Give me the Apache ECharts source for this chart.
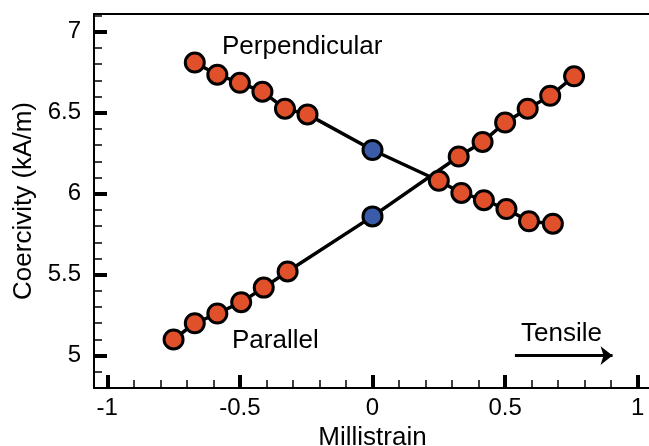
<!DOCTYPE html>
<html>
<head>
<meta charset="utf-8">
<script src="https://cdn.jsdelivr.net/npm/echarts@6/dist/echarts.min.js"></script>
<style>
html,body{margin:0;padding:0;background:#fff;}
#chart{width:649px;height:446px;}
</style>
</head>
<body>
<div id="chart"></div>
<script>
// ---- data ----
const parallelX = [-0.75, -0.67, -0.585, -0.495, -0.41, -0.32, 0, 0.325, 0.415, 0.5, 0.585, 0.67, 0.76];
const parallelY = [5.10, 5.20, 5.26, 5.33, 5.42, 5.52, 5.86, 6.23, 6.32, 6.44, 6.525, 6.605, 6.725];
const perpX = [-0.67, -0.585, -0.5, -0.415, -0.33, -0.245, 0, 0.25, 0.335, 0.42, 0.505, 0.59, 0.68];
const perpY = [6.81, 6.735, 6.685, 6.63, 6.525, 6.49, 6.27, 6.08, 6.005, 5.96, 5.905, 5.83, 5.815];
const xMajorTicks = [-1, -0.5, 0, 0.5, 1];
const xMinorTicks = [-0.9, -0.8, -0.7, -0.6, -0.4, -0.3, -0.2, -0.1, 0.1, 0.2, 0.3, 0.4, 0.6, 0.7, 0.8, 0.9];
const yMajorTicks = [5, 5.5, 6, 6.5, 7];
const yMinorTicks = [4.9, 5.1, 5.2, 5.3, 5.4, 5.6, 5.7, 5.8, 5.9, 6.1, 6.2, 6.3, 6.4, 6.6, 6.7, 6.8, 6.9, 7.1];
const xName = 'Millistrain';
const yName = 'Coercivity (kA/m)';
const labelPerp = 'Perpendicular';
const labelPar = 'Parallel';
const labelTensile = 'Tensile';
const tensileArrowX = [0.537, 0.905];
const tensileArrowY = 5.0;

// ---- styles ----
const ORANGE = '#E0502A';
const BLUE = '#3A5BAA';
const FONT = 'Liberation Sans, Arial, Helvetica, sans-serif';

function buildData(xs, ys) {
  return xs.map((x, i) => ({
    value: [x, ys[i]],
    itemStyle: { color: x === 0 ? BLUE : ORANGE }
  }));
}

const XMIN = -1.05, XMAX = 1.05, YMIN = 4.8, YMAX = 7.11;

const chart = echarts.init(document.getElementById('chart'), null, { renderer: 'canvas' });

const baseX = { type: 'value', min: XMIN, max: XMAX, splitLine: { show: false } };
const baseY = { type: 'value', min: YMIN, max: YMAX, splitLine: { show: false } };

chart.setOption({
  animation: false,
  backgroundColor: '#fff',
  grid: { left: 94, top: 14, right: -2, bottom: 58, containLabel: false, outerBoundsMode: 'none' },
  xAxis: [
    Object.assign({}, baseX, {
      position: 'bottom',
      name: xName, nameLocation: 'middle', nameGap: 31,
      nameTextStyle: { fontFamily: FONT, fontSize: 26, color: '#000' },
      axisLine: { show: true, onZero: false, lineStyle: { color: '#000', width: 2 } },
      axisTick: { show: true, inside: true, length: 13, lineStyle: { color: '#000', width: 4 }, customValues: xMajorTicks },
      axisLabel: { show: true, customValues: xMajorTicks, fontFamily: FONT, fontSize: 24, color: '#000', margin: 8 }
    }),
    Object.assign({}, baseX, {
      position: 'bottom',
      axisLine: { show: false, onZero: false },
      axisTick: { show: true, inside: true, length: 8, lineStyle: { color: '#000', width: 1.5 }, customValues: xMinorTicks },
      axisLabel: { show: false }
    }),
    Object.assign({}, baseX, {
      position: 'top',
      axisLine: { show: true, onZero: false, lineStyle: { color: '#000', width: 2 } },
      axisTick: { show: false },
      axisLabel: { show: false }
    })
  ],
  yAxis: [
    Object.assign({}, baseY, {
      position: 'left',
      name: yName, nameLocation: 'middle', nameGap: 56,
      nameTextStyle: { fontFamily: FONT, fontSize: 26, color: '#000' },
      axisLine: { show: true, onZero: false, lineStyle: { color: '#000', width: 2 } },
      axisTick: { show: true, inside: true, length: 13, lineStyle: { color: '#000', width: 4 }, customValues: yMajorTicks },
      axisLabel: { show: true, customValues: yMajorTicks, fontFamily: FONT, fontSize: 24, color: '#000', margin: 13 }
    }),
    Object.assign({}, baseY, {
      position: 'left',
      axisLine: { show: false, onZero: false },
      axisTick: { show: true, inside: true, length: 8, lineStyle: { color: '#000', width: 1.5 }, customValues: yMinorTicks },
      axisLabel: { show: false }
    })
  ],
  series: [
    {
      name: labelPar, type: 'line', xAxisIndex: 0, yAxisIndex: 0,
      data: buildData(parallelX, parallelY),
      symbol: 'circle', symbolSize: 19,
      lineStyle: { color: '#000', width: 3.5 },
      itemStyle: { borderColor: '#000', borderWidth: 3 },
      markLine: {
        silent: true, symbol: ['none', 'arrow'], symbolSize: [14, 12],
        label: { show: false },
        lineStyle: { color: '#000', width: 3, type: 'solid' },
        data: [[{ coord: [tensileArrowX[0], tensileArrowY] }, { coord: [tensileArrowX[1], tensileArrowY] }]]
      }
    },
    {
      name: labelPerp, type: 'line', xAxisIndex: 0, yAxisIndex: 0,
      data: buildData(perpX, perpY),
      symbol: 'circle', symbolSize: 19,
      lineStyle: { color: '#000', width: 3.5 },
      itemStyle: { borderColor: '#000', borderWidth: 3 }
    }
  ],
  graphic: [
    { type: 'text', left: 222, top: 34, style: { text: labelPerp, font: '26px ' + FONT, fill: '#000' } },
    { type: 'text', left: 232, top: 328, style: { text: labelPar, font: '26px ' + FONT, fill: '#000' } },
    { type: 'text', left: 521, top: 321, style: { text: labelTensile, font: '26px ' + FONT, fill: '#000' } }
  ]
});
</script>
</body>
</html>
